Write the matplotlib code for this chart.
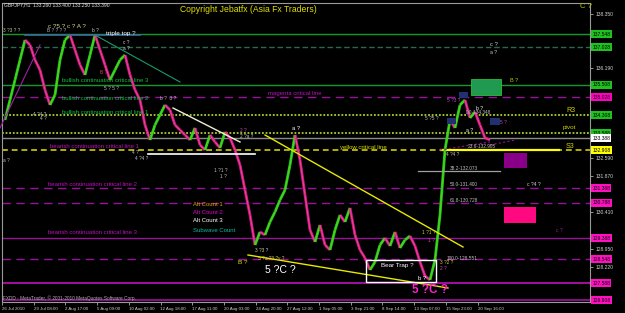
import numpy as np
import matplotlib
matplotlib.use("Agg")
import matplotlib.pyplot as plt
from matplotlib.collections import LineCollection
from matplotlib.patches import Rectangle
from matplotlib.transforms import blended_transform_factory

plt.rcParams['font.family'] = ['Liberation Sans', 'DejaVu Sans']

# ---------------- data ----------------
closes = [134.11, 134.91, 135.71, 136.51, 137.31, 137.11, 136.51, 136.11, 135.31, 134.71,
          135.11, 136.51, 137.31, 137.51, 136.91, 136.31, 135.91, 136.71, 137.51, 136.91,
          136.31, 135.71, 136.11, 136.51, 136.71, 135.91, 135.31, 134.91, 133.91, 133.31,
          133.91, 134.31, 134.71, 134.51, 133.91, 133.71, 133.51, 133.31, 133.79, 133.11,
          132.91, 133.51, 133.23, 132.99, 133.63, 133.39, 132.91, 132.31, 131.31, 130.31,
          129.11, 129.63, 129.51, 130.03, 130.43, 130.91, 131.31, 132.31, 133.51, 132.51,
          131.11, 129.71, 129.23, 129.91, 129.11, 128.91, 129.71, 130.31, 130.03, 130.59,
          129.51, 128.91, 128.59, 128.11, 128.43, 129.11, 129.39, 129.07, 129.63, 128.99,
          129.31, 129.47, 129.07, 128.43, 127.87, 127.71, 128.51, 130.31, 132.91, 134.11,
          133.79, 134.71, 134.91, 134.19, 134.43, 133.91, 133.39, 133.31]

levels = [137.548, 137.028, 135.508, 135.028, 134.308, 133.588, 133.388, 132.908,
          131.388, 130.788, 129.388, 128.548, 127.588, 126.908]
level_labels = ["137.548", "137.028", "135.508", "135.028", "134.308", "133.588", "133.388",
                "132.908", "131.388", "130.788", "129.388", "128.548", "127.588", "126.908"]

price_ticks = [138.350, 137.630, 136.910, 136.190, 135.470, 134.750, 134.030, 133.310,
               132.590, 131.870, 131.140, 130.410, 129.680, 128.950, 128.220, 127.490]

date_labels = ["26 Jul 2010", "29 Jul 08:00", "2 Aug 17:00", "5 Aug 09:00", "10 Aug 02:00",
               "12 Aug 18:00", "17 Aug 11:00", "20 Aug 03:00", "24 Aug 20:00", "27 Aug 12:00",
               "1 Sep 05:00", "3 Sep 21:00", "8 Sep 14:00", "13 Sep 07:00", "15 Sep 23:00",
               "20 Sep 16:00"]

# ---------------- styles ----------------
level_styles = [
    dict(color="#129a2e", ls="-", lw=1.0, box="#1ec21e"),
    dict(color="#2a6a4a", ls=(0, (4, 2)), lw=1.0, box="#1ec21e"),
    dict(color="#129a2e", ls="-", lw=1.0, box="#1ec21e"),
    dict(color="#9a109a", ls=(0, (6, 4)), lw=1.0, box="#ff00c0"),
    dict(color="#a8d030", ls=(0, (1, 1)), lw=1.3, box="#1ec21e"),
    dict(color="#a8d030", ls=(0, (1, 1)), lw=1.3, box="#1ec21e"),
    dict(color="#8a8a8a", ls="-", lw=1.0, box="#ffffff"),
    dict(color="#b0b000", ls=(0, (3, 2)), lw=1.4, box="#ffff00"),
    dict(color="#9a109a", ls=(0, (6, 4)), lw=1.0, box="#ff10c0"),
    dict(color="#9a109a", ls=(0, (6, 4)), lw=1.0, box="#ff10c0"),
    dict(color="#9a109a", ls="-", lw=1.0, box="#ff10c0"),
    dict(color="#9a109a", ls=(0, (6, 4)), lw=1.0, box="#ff10c0"),
    dict(color="#a010a0", ls="-", lw=1.4, box="#ff10c0"),
    dict(color="#a010a0", ls="-", lw=1.2, box="#ff10c0"),
]

W, H = 625, 313
fig = plt.figure(figsize=(W / 100, H / 100), dpi=100)
fig.patch.set_facecolor("black")

PX_L, PX_R, PX_T, PX_B = 2, 590, 3, 302
ax = fig.add_axes([PX_L / W, (H - PX_B) / H, (PX_R - PX_L) / W, (PX_B - PX_T) / H])
ax.set_facecolor("black")
ax.set_xlim(PX_L, PX_R)
ax.set_ylim(126.828, 138.788)

# horizontal levels
for lvl, st in zip(levels, level_styles):
    ax.axhline(lvl, color=st["color"], ls=st["ls"], lw=st["lw"], zorder=1)
# bright yellow critical segment
ax.hlines(levels[7], 440, 560, color="#ffff00", lw=1.6, zorder=2)

# price path
xs = 5 + 5 * np.arange(len(closes))
pts = np.column_stack([xs, closes])
segs = np.stack([pts[:-1], pts[1:]], axis=1)
cols = ["#20d020" if b > a else "#e010a0" for a, b in zip(closes[:-1], closes[1:])]
lc = LineCollection(segs, colors=cols, linewidths=2.0, zorder=3)
ax.add_collection(lc)
lc2 = LineCollection(segs, colors="#c8c800", linewidths=0.4, alpha=0.6, zorder=4)
ax.add_collection(lc2)

# axes styling
for s in ax.spines.values():
    s.set_color("#9a9a9a")
    s.set_linewidth(0.8)
ax.yaxis.tick_right()
shown = [p for p in price_ticks if min(abs(p - l) for l in levels) > 0.3]
ax.set_yticks(shown)
ax.set_yticklabels([f"{p:.3f}" for p in shown])
ax.tick_params(axis="y", colors="#d0d0d0", labelsize=3.6, length=2, width=0.5, pad=2)
xt = PX_L + 31.7 * np.arange(len(date_labels))
ax.set_xticks(xt)
ax.set_xticklabels(date_labels, ha="left")
ax.tick_params(axis="x", colors="#d0d0d0", labelsize=3.2, length=2, width=0.5, pad=1.5)

# coloured level boxes on the price axis
tr = blended_transform_factory(ax.transAxes, ax.transData)
for lvl, lab, st in zip(levels, level_labels, level_styles):
    ax.text(1.004, lvl, lab, transform=tr, fontsize=3.6, color="#000000", va="center",
            ha="left", zorder=10, clip_on=False,
            bbox=dict(boxstyle="square,pad=0.25", fc=st["box"], ec="none"))

# ---------------- overlay in pixel coords ----------------
ov = fig.add_axes([0, 0, 1, 1], facecolor="none")
ov.set_xlim(0, W)
ov.set_ylim(H, 0)
ov.axis("off")

def line(x0, y0, x1, y1, c, lw=1.0, ls="-"):
    ov.plot([x0, x1], [y0, y1], color=c, lw=lw, ls=ls, zorder=5)

line(25, 35, 140, 35, "#3a6a9a", 1.2)
line(95, 35, 180, 82, "#1a9a6a", 0.8)
line(0, 128, 40, 45, "#a020a0", 0.8)
line(173, 108, 240, 142, "#f0f0d0", 1.0)
line(148, 154, 255, 154, "#ffffff", 1.2)
line(265, 135, 463, 247, "#e8e800", 1.0)
line(248, 255, 448, 288, "#e8e800", 1.0)
line(418, 171, 500, 171, "#a0a0a0", 0.9)
line(490, 145, 515, 140, "#9a109a", 0.8, ls=(0, (2, 2)))
line(440, 150, 490, 142, "#9a109a", 0.8, ls=(0, (2, 2)))

ov.add_patch(Rectangle((471, 79), 30, 16, fc="#1f9a50", ec="#30c030", lw=0.6, zorder=4))
ov.add_patch(Rectangle((459, 92), 9, 6, fc="#203070", ec="none", zorder=4))
ov.add_patch(Rectangle((447, 118), 9, 6, fc="#203070", ec="none", zorder=4))
ov.add_patch(Rectangle((490, 118), 10, 7, fc="#203070", ec="none", zorder=4))
ov.add_patch(Rectangle((504, 153), 23, 15, fc="#880088", ec="none", zorder=4))
ov.add_patch(Rectangle((504, 207), 32, 16, fc="#ff0880", ec="none", zorder=4))
ov.add_patch(Rectangle((366, 260), 70, 22, fc="none", ec="#ffffff", lw=1.0, zorder=5))

def t(x, y, s, c="#ffffff", fs=4.0, **kw):
    ov.text(x, y, s, color=c, fontsize=fs, va="center", ha="left", zorder=8, **kw)

t(4, 5, "GBPJPY,H1  133.260 133.400 133.250 133.390", "#e0e0e0", 3.6)
t(180, 9, "Copyright Jebatfx (Asia Fx Traders)", "#e0e000", 6.2)
t(580, 7, "C ?", "#c0c000", 5.5)
t(106, 33, "triple top ?", "#ffffff", 4.6)
t(48, 26, "c ?5 ? c ? A ?", "#d8d880", 4.6)
t(47, 31, "B ? ? ? ?", "#c0a0c0", 3.4)
t(3, 31, "3 ?3 ? ?", "#c0c0a0", 3.4)
t(92, 31, "b ?", "#d0d0d0", 3.4)
t(123, 42, "c ?", "#d0d0d0", 3.4)
t(123, 49, "a ?", "#d0d0d0", 3.4)
t(490, 44, "c ?", "#d0d0d0", 4.2)
t(490, 52, "a ?", "#d0d0d0", 3.6)
t(510, 80, "B ?", "#c0c000", 4.0)
t(100, 72, "B ?", "#c05050", 3.4)
t(104, 88, "5 ? 5 ?", "#c0c0c0", 3.4)
t(160, 99, "b ?  3 ?", "#c0c0c0", 3.4)
t(33, 114, "4 ?4 ?", "#c0c0c0", 3.4)
t(40, 119, "4 ?", "#c0c0c0", 3.4)
t(3, 161, "a ?", "#c0c0c0", 3.4)
t(132, 153, "4 ?", "#c0c0c0", 3.4)
t(135, 158, "4 ?4 ?", "#c0c0c0", 3.4)
t(214, 171, "1 ?1 ?", "#c0c0c0", 3.4)
t(220, 177, "1 ?", "#c0c0c0", 3.4)
t(240, 131, "2 ?", "#c050c0", 3.4)
t(240, 137, "2 ?a ?", "#c0c0c0", 3.4)
t(292, 129, "a ?", "#ffffff", 4.2)
t(255, 251, "3 ?3 ?", "#d0d0a0", 3.4)
t(258, 258, "5 ?a ?3 ?v ?", "#d0d040", 3.4)
t(238, 262, "B ?", "#e0e000", 4.6)
t(265, 270, "5 ?C ?", "#ffffff", 7.5)
t(381, 266, "Bear Trap ?", "#ffffff", 4.5)
t(412, 290, "5 ?C ?", "#ff20d0", 8.5, fontweight="bold")
t(418, 279, "b ?", "#ffffff", 4.2)
t(422, 233, "1 ?1 ?", "#d0d040", 3.4)
t(428, 240, "1 ?", "#c050c0", 3.4)
t(440, 262, "3 ?2 ?", "#d0d040", 3.4)
t(440, 269, "2 ?", "#c050c0", 3.4)
t(447, 101, "5 ?3 ?", "#c050c0", 3.4)
t(425, 118, "5 ?5 ?", "#c0c0c0", 3.4)
t(476, 108, "b ?", "#ffffff", 3.6)
t(466, 131, "a ?", "#ffffff", 3.6)
t(446, 154, "4 ?4 ?", "#c0c0c0", 3.4)
t(500, 122, "5 ?", "#c050c0", 3.4)
t(527, 184, "c ?4 ?", "#d0d0d0", 3.6)
t(556, 231, "c ?", "#a020a0", 3.6)
t(62, 81, "bullish continuation critical line 3", "#10c040", 4.3)
t(62, 99, "bullish continuation critical line 2", "#10c040", 4.3)
t(62, 112, "bullish continuation critical line 1", "#10c040", 4.3)
t(268, 93, "magenta critical line", "#c010c0", 4.3)
t(50, 147, "bearish continuation critical line 1", "#c010c0", 4.3)
t(340, 147, "yellow critical line", "#e0e000", 4.3)
t(48, 184, "bearish continuation critical line 2", "#c010c0", 4.3)
t(48, 233, "bearish continuation critical line 3", "#c010c0", 4.3)
t(466, 113, "0.0-134.348", "#c0c0c0", 3.4)
t(468, 146, "23.6-132.905", "#c0c0c0", 3.4)
t(450, 169, "38.2-132.073", "#c0c0c0", 3.4)
t(450, 185, "50.0-131.400", "#c0c0c0", 3.4)
t(450, 201, "61.8-130.728", "#c0c0c0", 3.4)
t(447, 258, "100.0-128.551", "#c0c0c0", 3.4)
t(566, 111, "R3", "#d0d000", 5.0)
t(563, 128, "pivot", "#d0d000", 4.6)
t(566, 146, "S3", "#d0d000", 5.0)
t(193, 204, "Alt Count 1", "#e0a000", 4.3)
t(193, 213, "Alt Count 2", "#e000e0", 4.3)
t(193, 221, "Alt Count 3", "#ffffff", 4.3)
t(193, 230, "Subwave Count", "#00c0a0", 4.3)
t(3, 298, "FXDD - MetaTrader, \u00a9 2001-2010 MetaQuotes Software Corp.", "#b0b0b0", 3.4)

fig.savefig("out.png", dpi=100, facecolor="black")
